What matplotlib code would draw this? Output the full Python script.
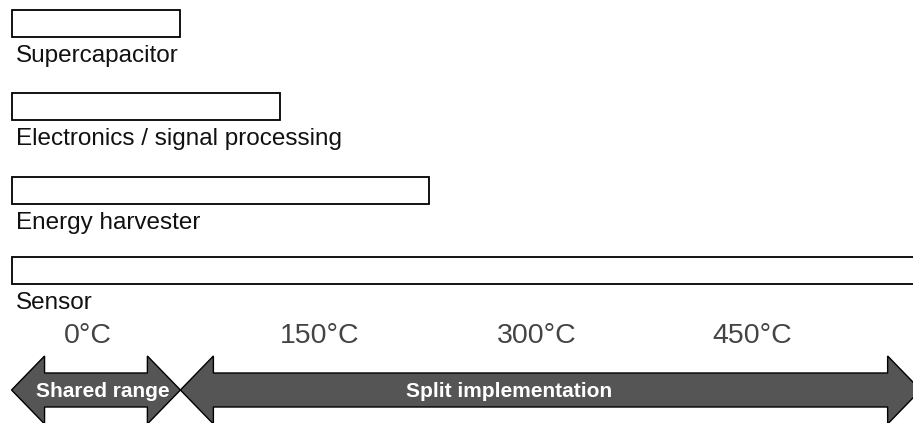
import matplotlib.pyplot as plt
from matplotlib.patches import Polygon

plt.rcParams['font.family'] = ['Liberation Sans', 'DejaVu Sans']

# operating temperature range of each component (deg C)
components = ["Supercapacitor", "Electronics / signal processing",
              "Energy harvester", "Sensor"]
t_min = [-36, -36, -36, -36]
t_max = [81, 150, 253, 600]

temp_ticks = [0, 150, 300, 450]
tick_labels = ["0°C", "150°C", "300°C", "450°C"]

phases = ["Shared range", "Split implementation"]
phase_start = [-36, 81]
phase_end = [81, 594]
phase_label_at = [27, 309]

# layout: pixel grid, x mapped to temperature
W, H = 913, 423
PX0, K = 63.5, 1.443          # pixel of 0 deg C, pixels per deg C
row_top = [10, 93, 177, 257]
bar_h = 27


def px(n):
    # pixel length -> deg C length
    return n / K


fig = plt.figure(figsize=(W / 100, H / 100), dpi=100)
ax = fig.add_axes([0, 0, 1, 1])
ax.set_xlim(-PX0 / K, (W - PX0) / K)
ax.set_ylim(H, 0)
ax.axis('off')

centers = [t + bar_h / 2 for t in row_top]
widths = [b - a for a, b in zip(t_min, t_max)]
ax.barh(centers, widths, left=t_min, height=bar_h, color='white',
        edgecolor='black', linewidth=1.3)

for name, left, top in zip(components, t_min, row_top):
    ax.text(left + px(4), top + bar_h + 25, name, ha='left', va='baseline',
            fontsize=17.5, color='#111111')

for t, lab in zip(temp_ticks, tick_labels):
    ax.text(t, 343, lab, ha='left', va='baseline', fontsize=20.5,
            color='#444444')

# double-headed block arrows
yc, body, head, hl = 390, 17, 34, px(33)
for name, x0, x1, xl in zip(phases, phase_start, phase_end, phase_label_at):
    pts = [(x0, yc), (x0 + hl, yc - head), (x0 + hl, yc - body),
           (x1 - hl, yc - body), (x1 - hl, yc - head), (x1, yc),
           (x1 - hl, yc + head), (x1 - hl, yc + body),
           (x0 + hl, yc + body), (x0 + hl, yc + head)]
    ax.add_patch(Polygon(pts, closed=True, facecolor='#555555',
                         edgecolor='black', linewidth=1.0))
    ax.text(xl, 397, name, ha='center', va='baseline', fontsize=15,
            fontweight='bold', color='white')

fig.savefig('out.png', dpi=100)
